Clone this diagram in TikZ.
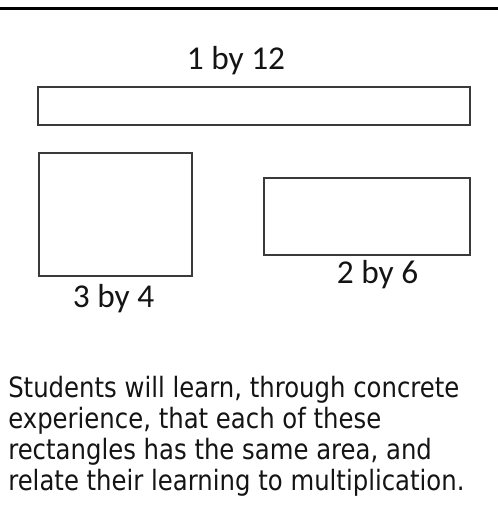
\documentclass[tikz,border=0pt]{standalone}
\usepackage{fontspec}
\usetikzlibrary{positioning}
\newfontfamily\lblfont{Carlito}
\newfontfamily\txtfont[FakeStretch=0.87]{DejaVu Sans}
\definecolor{edge}{HTML}{3A3A3A}
\definecolor{ink}{HTML}{141414}

\begin{document}
\begin{tikzpicture}
[x=0.75pt,y=-0.75pt,
box/.style={draw=edge,line width=1.5pt,inner sep=0pt},
lbl/.style={font=\lblfont\fontsize{25}{30}\selectfont,text=ink,inner sep=0pt,anchor=base},
txt/.style={font=\txtfont\fontsize{21}{23.25}\selectfont,text=ink,inner sep=0pt,align=left}]
%%%%%%%%%%
\path[use as bounding box,fill=white] (0,0) rectangle (498,527);
\draw[line width=2.25pt] (0,8.5) -- (498,8.5);

%% rectangles
\node[box,minimum width=324pt,minimum height=28.5pt] (r12) at (254,106) {};
\node[box,minimum width=114.75pt,minimum height=92.25pt] (r34) at (115.5,214.5) {};
\node[box,minimum width=154.5pt,minimum height=57.75pt] (r26) at (367,216.5) {};

%% labels
\node[lbl] (l12) at (236,69.5) {1 by 12};
\node[lbl] (l34) at (113.5,307) {3 by 4};
\node[lbl] (l26) at (377.5,283.5) {2 by 6};

%% text (base is the last line)
\node[txt,anchor=base west] (note) at (8,490.5)
{Students will learn, through concrete\\
experience, that each of these\\
rectangles has the same area, and\\
relate their learning to multiplication.};
\end{tikzpicture}
\end{document}
